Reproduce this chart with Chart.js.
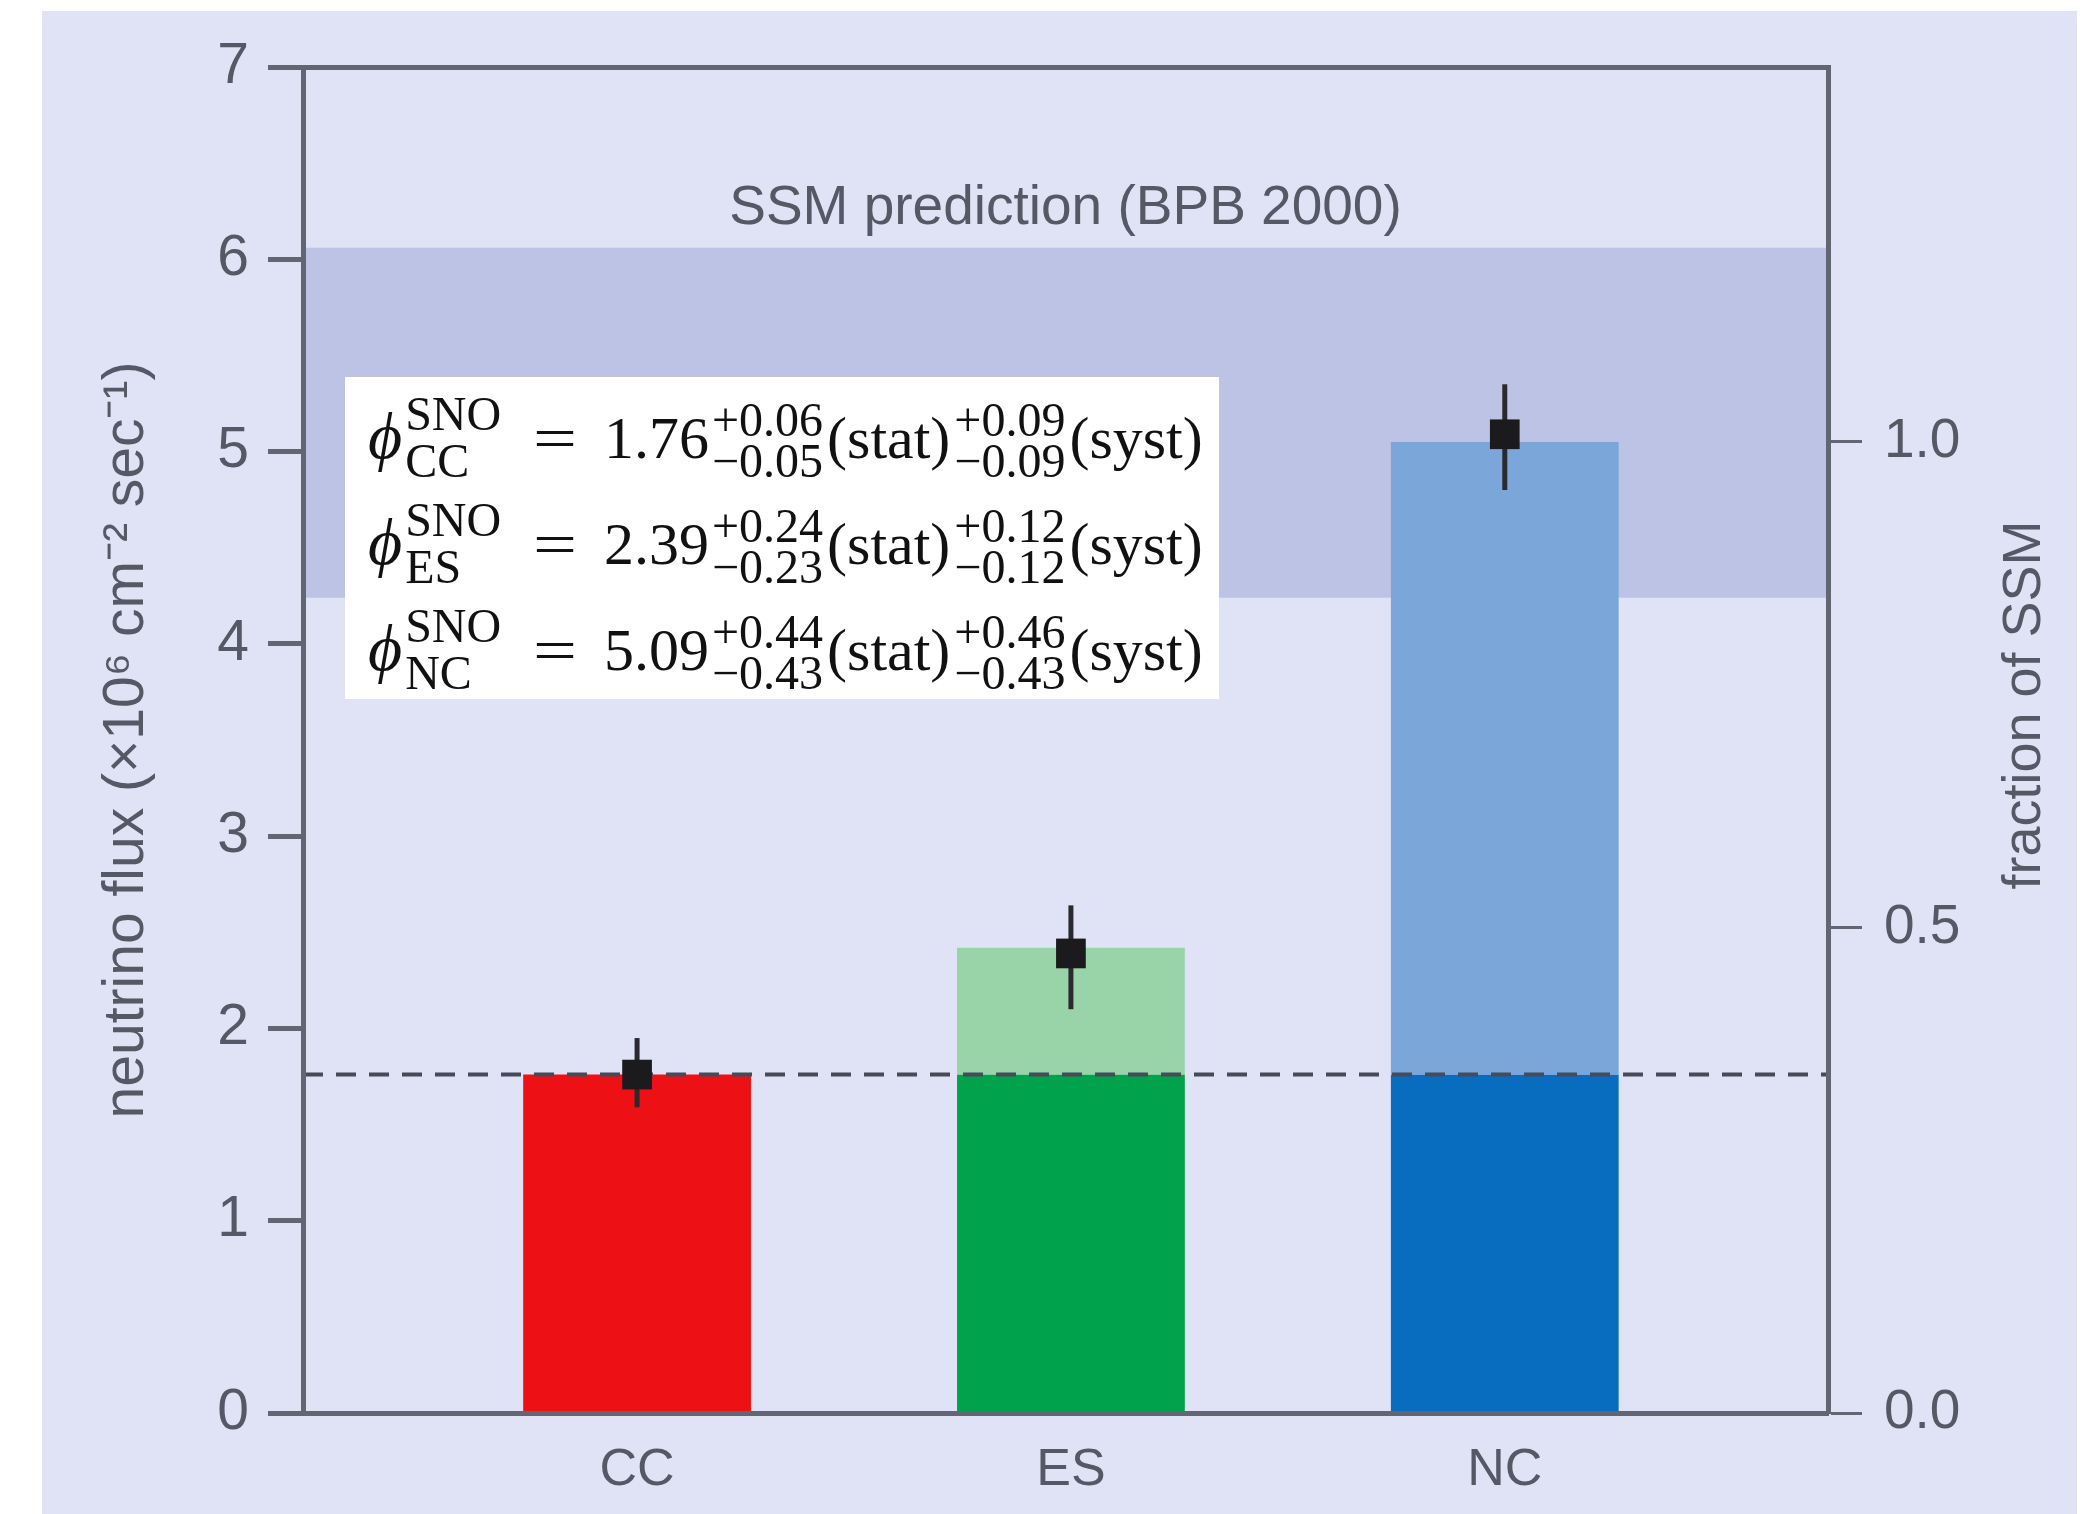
<!DOCTYPE html>
<html><head><meta charset="utf-8">
<script src="https://cdn.jsdelivr.net/npm/chart.js@4.4.0/dist/chart.umd.min.js"></script>
<style>html,body{margin:0;padding:0;background:#fff;}canvas{display:block;}</style>
</head><body>
<canvas id="c" width="2096" height="1514"></canvas>
<script>
// ---------------- data ----------------
const categories = ['CC', 'ES', 'NC'];
const xPositions = [1, 2, 3];
const baseFlux = [1.76, 1.76, 1.76];        // dark (lower) part of each bar
const barTops = [1.76, 2.42, 5.05];         // top of the pale (upper) part
const measuredFlux = [1.76, 2.39, 5.09];    // black markers
const errUpper = [1.95, 2.64, 5.35];
const errLower = [1.59, 2.10, 4.80];
const ssmBand = [4.24, 6.06];
const ssmValue = 5.05;
const dashedLevel = 1.76;
const yTicks = [0, 1, 2, 3, 4, 5, 6, 7];
const fracTicks = [0.0, 0.5, 1.0];
const statPlus = [0.06, 0.24, 0.44];
const statMinus = [0.05, 0.23, 0.43];
const systPlus = [0.09, 0.12, 0.46];
const systMinus = [0.09, 0.12, 0.43];
const ssmLabel = 'SSM prediction (BPB 2000)';
const yTitle = 'neutrino flux (×10⁶ cm⁻² sec⁻¹)';
const yRightTitle = 'fraction of SSM';

// ---------------- styles ----------------
const panelColor = '#dfe3f5';
const bandColor = '#bdc3e4';
const axisColor = '#626672';
const textColor = '#545966';
const darkColors = ['#ed1116', '#00a34b', '#086dbe'];
const paleColors = ['#ed1116', '#98d4a8', '#7ba6d9'];
const SANS = "'Liberation Sans', Arial, sans-serif";
const NARROW = "'Liberation Sans Narrow', 'Liberation Sans', Arial, sans-serif";
const SERIF = "'Liberation Serif', 'Times New Roman', serif";

const chartPlugin = {
  id: 'snoDecor',
  beforeDraw(chart) {
    const ctx = chart.ctx;
    ctx.save();
    ctx.fillStyle = '#ffffff';
    ctx.fillRect(0, 0, chart.width, chart.height);
    ctx.fillStyle = panelColor;
    ctx.fillRect(42, 11, 2035, chart.height - 11);
    ctx.restore();
  },
  beforeDatasetsDraw(chart) {
    const ctx = chart.ctx, a = chart.chartArea, y = chart.scales.y;
    ctx.save();
    ctx.fillStyle = bandColor;
    const yt = y.getPixelForValue(ssmBand[1]), yb = y.getPixelForValue(ssmBand[0]);
    ctx.fillRect(a.left, yt, a.right - a.left, yb - yt);
    ctx.fillStyle = textColor;
    ctx.font = '55px ' + SANS;
    ctx.textAlign = 'center';
    ctx.textBaseline = 'alphabetic';
    ctx.fillText(ssmLabel, (a.left + a.right) / 2, yt - 24);
    ctx.restore();
  },
  afterDatasetDraw(chart, args) {
    if (args.index !== 1) return;
    const ctx = chart.ctx, a = chart.chartArea, x = chart.scales.x, y = chart.scales.y;
    ctx.save();
    // dashed CC level
    ctx.strokeStyle = '#454b58';
    ctx.lineWidth = 4;
    ctx.setLineDash([20, 13]);
    const yd = y.getPixelForValue(dashedLevel);
    ctx.beginPath(); ctx.moveTo(a.left, yd); ctx.lineTo(a.right, yd); ctx.stroke();
    ctx.setLineDash([]);
    // error bars
    ctx.strokeStyle = '#2a2a2e';
    ctx.lineWidth = 5;
    for (let i = 0; i < xPositions.length; i++) {
      const px = x.getPixelForValue(xPositions[i]);
      ctx.beginPath();
      ctx.moveTo(px, y.getPixelForValue(errUpper[i]));
      ctx.lineTo(px, y.getPixelForValue(errLower[i]));
      ctx.stroke();
    }
    ctx.restore();
  },
  afterDraw(chart) {
    const ctx = chart.ctx, a = chart.chartArea;
    ctx.save();
    // right axis title, reading upward
    ctx.translate(2025, 705);
    ctx.rotate(-Math.PI / 2);
    ctx.fillStyle = textColor;
    ctx.font = '54px ' + NARROW;
    ctx.textAlign = 'center';
    ctx.textBaseline = 'middle';
    ctx.fillText(yRightTitle, 0, 0);
    ctx.restore();

    // equation box
    const bx = a.left + 42, by = a.top + 310, bw = 874, bh = 322;
    ctx.save();
    ctx.fillStyle = '#ffffff';
    ctx.fillRect(bx, by, bw, bh);
    ctx.fillStyle = '#111111';
    ctx.textAlign = 'left';
    ctx.textBaseline = 'alphabetic';
    const fMain = '60px ' + SERIF, fItal = 'italic 66px ' + SERIF, fScr = '48px ' + SERIF, fErr = '48px ' + SERIF;
    const w = (t, f) => { ctx.font = f; return ctx.measureText(t).width; };
    for (let i = 0; i < categories.length; i++) {
      const base = by + 81 + i * 106;
      let cx = bx + 23;
      ctx.font = fItal; ctx.fillText('ϕ', cx, base);
      cx += w('ϕ', fItal) + 3;
      ctx.font = fScr;
      ctx.fillText('SNO', cx, base - 28);
      ctx.fillText(categories[i], cx, base + 19);
      ctx.font = fMain;
      ctx.save();
      ctx.translate(bx + 188, base);
      ctx.scale(1.3, 1);
      ctx.fillText('=', 0, 0);
      ctx.restore();
      cx = bx + 259;
      const num = measuredFlux[i].toFixed(2);
      ctx.fillText(num, cx, base);
      cx += w(num, fMain) + 3;
      const parts = [[statPlus[i], statMinus[i], '(stat)'], [systPlus[i], systMinus[i], '(syst)']];
      for (const [p, m, lab] of parts) {
        const sp = '+' + p.toFixed(2), sm = '\u2212' + m.toFixed(2);
        ctx.font = fErr;
        ctx.fillText(sp, cx, base - 22);
        ctx.fillText(sm, cx, base + 19);
        cx += Math.max(w(sp, fErr), w(sm, fErr)) + 4;
        ctx.font = fMain;
        ctx.fillText(lab, cx, base);
        cx += w(lab, fMain) + 4;
      }
    }
    ctx.restore();
  }
};

const ctx = document.getElementById('c').getContext('2d');
new Chart(ctx, {
  type: 'bar',
  data: {
    datasets: [
      {
        label: 'base',
        data: xPositions.map((x, i) => ({ x: x, y: [0, baseFlux[i]] })),
        backgroundColor: darkColors,
        borderWidth: 0,
        grouped: false,
        categoryPercentage: 1,
        barPercentage: 0.525,
        order: 3,
        xAxisID: 'x', yAxisID: 'y'
      },
      {
        label: 'total',
        data: xPositions.map((x, i) => ({ x: x, y: [baseFlux[i], barTops[i]] })),
        backgroundColor: paleColors,
        borderWidth: 0,
        grouped: false,
        categoryPercentage: 1,
        barPercentage: 0.525,
        order: 2,
        xAxisID: 'x', yAxisID: 'y'
      },
      {
        type: 'line',
        label: 'measured',
        data: xPositions.map((x, i) => ({ x: x, y: measuredFlux[i] })),
        showLine: false,
        pointStyle: 'rect',
        pointRadius: 21,
        pointHoverRadius: 21,
        pointBackgroundColor: '#1b1b1d',
        pointBorderWidth: 0,
        order: 1,
        xAxisID: 'x', yAxisID: 'y'
      }
    ]
  },
  options: {
    responsive: false,
    animation: false,
    devicePixelRatio: 1,
    layout: { padding: 0 },
    plugins: { legend: { display: false }, tooltip: { enabled: false } },
    scales: {
      x: {
        type: 'linear', position: 'bottom', min: 0.23, max: 3.745, offset: false,
        afterBuildTicks: s => { s.ticks = xPositions.map(v => ({ value: v })); },
        ticks: {
          autoSkip: false, maxRotation: 0,
          callback: v => categories[xPositions.indexOf(v)],
          font: { family: NARROW, size: 52 }, color: textColor, padding: 26
        },
        grid: { display: false, drawTicks: false, offset: false },
        border: { display: true, color: axisColor, width: 5, z: 1 },
        afterFit: s => { s.height = 101; }
      },
      xTop: {
        type: 'linear', position: 'top', min: 0.23, max: 3.745, offset: false,
        ticks: { display: false },
        grid: { display: false, drawTicks: false },
        border: { display: true, color: axisColor, width: 5, z: 1 },
        afterFit: s => { s.height = 67; }
      },
      y: {
        type: 'linear', position: 'left', min: 0, max: 7,
        afterBuildTicks: s => { s.ticks = yTicks.map(v => ({ value: v })); },
        ticks: { font: { family: SANS, size: 57 }, color: textColor, padding: 19 },
        grid: { drawOnChartArea: false, drawTicks: true, tickLength: 35, tickWidth: 5, tickColor: axisColor, color: axisColor },
        border: { display: true, color: axisColor, width: 5, z: 1 },
        title: { display: true, text: yTitle, font: { family: NARROW, size: 57 }, color: textColor, padding: { top: 93, bottom: 0 } },
        afterFit: s => { s.width = 303; }
      },
      yRight: {
        type: 'linear', position: 'right', min: 0, max: 7 / ssmValue,
        afterBuildTicks: s => { s.ticks = fracTicks.map(v => ({ value: v })); },
        ticks: { font: { family: SANS, size: 55 }, color: textColor, padding: 22, callback: v => v.toFixed(1) },
        grid: { drawOnChartArea: false, drawTicks: true, tickLength: 34, tickWidth: 3, tickColor: axisColor, color: axisColor },
        border: { display: true, color: axisColor, width: 5, z: 1 },
        afterFit: s => { s.width = 268; }
      }
    }
  },
  plugins: [chartPlugin]
});
</script>
</body></html>
